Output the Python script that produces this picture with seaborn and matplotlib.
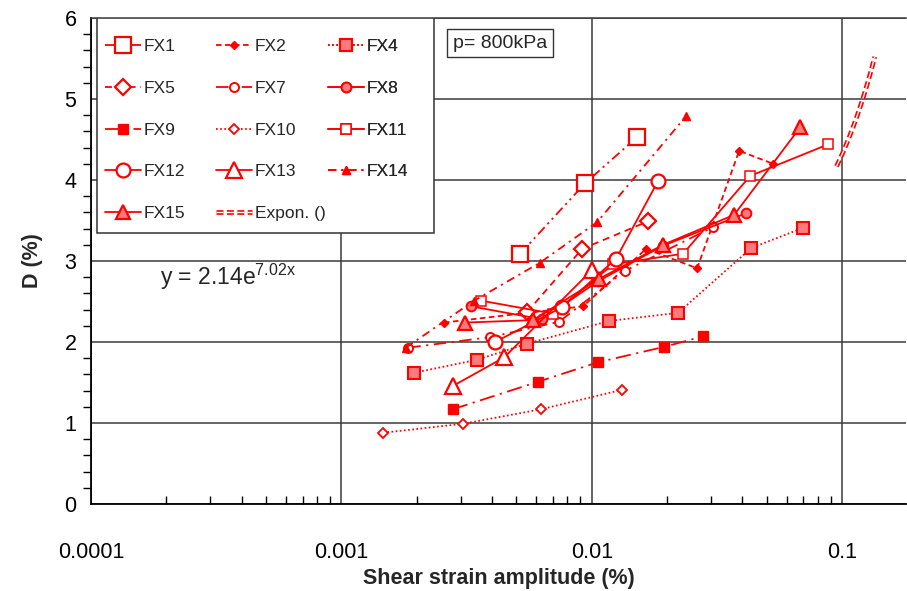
import numpy as np
import matplotlib
matplotlib.use("Agg")
import matplotlib.pyplot as plt
import seaborn as sns
from matplotlib.patches import Rectangle
from matplotlib.legend_handler import HandlerTuple
from matplotlib.ticker import LogLocator, MultipleLocator, FixedLocator, NullFormatter

# ---------------- data ----------------
fx1_x = [0.00518, 0.00941, 0.01518]
fx1_y = [3.09, 3.96, 4.53]

fx2_x = [0.00257, 0.00924, 0.01649, 0.02637, 0.0388, 0.05305]
fx2_y = [2.24, 2.44, 3.15, 2.91, 4.36, 4.20]

fx4_x = [0.00195, 0.00348, 0.00552, 0.01173, 0.02213, 0.04336, 0.06993]
fx4_y = [1.62, 1.78, 1.98, 2.26, 2.36, 3.16, 3.41]

fx5_x = [0.00552, 0.00916, 0.0168]
fx5_y = [2.37, 3.15, 3.49]

fx7_x = [0.00185, 0.00393, 0.00741, 0.01359, 0.03055]
fx7_y = [1.93, 2.06, 2.25, 2.88, 3.42]

fx8_x = [0.0033, 0.00634, 0.0106, 0.01928, 0.04139]
fx8_y = [2.44, 2.28, 2.75, 3.19, 3.59]

fx9_x = [0.00279, 0.00611, 0.0106, 0.01946, 0.02786]
fx9_y = [1.17, 1.51, 1.75, 1.94, 2.07]

fx10_x = [0.00147, 0.00306, 0.00628, 0.01322]
fx10_y = [0.88, 0.99, 1.17, 1.41]

fx11_x = [0.00362, 0.00701, 0.01218, 0.02318, 0.04295, 0.08797]
fx11_y = [2.51, 2.35, 2.96, 3.09, 4.05, 4.44]

fx12_x = [0.00411, 0.00762, 0.01252, 0.01842]
fx12_y = [2.00, 2.43, 3.03, 3.99]

fx13_x = [0.0028, 0.00447, 0.01004]
fx13_y = [1.46, 1.81, 2.89]

fx14_x = [0.00181, 0.00339, 0.00622, 0.01051, 0.02384]
fx14_y = [1.93, 2.51, 2.98, 3.48, 4.79]

fx15_x = [0.00312, 0.00583, 0.0107, 0.01928, 0.03706, 0.06802]
fx15_y = [2.24, 2.27, 2.78, 3.20, 3.57, 4.65]

# exponential trendline shown on the chart: y = 2.14 e^(7.02 x)
trend_a = 2.14
trend_b = 7.02
trend_x_range = [0.095, 0.135]

series_names = ["FX1", "FX2", "FX4", "FX5", "FX7", "FX8", "FX9", "FX10",
                "FX11", "FX12", "FX13", "FX14", "FX15"]
x_tick_values = [1e-4, 1e-3, 1e-2, 1e-1]
x_tick_labels = ["0.0001", "0.001", "0.01", "0.1"]

# ---------------- styling ----------------
sns.set_theme(style="white")
plt.rcParams["font.family"] = ["Liberation Sans", "DejaVu Sans"]
plt.rcParams["mathtext.fontset"] = "custom"
plt.rcParams["mathtext.rm"] = "Liberation Sans"
plt.rcParams["mathtext.it"] = "Liberation Sans:italic"
plt.rcParams["lines.scale_dashes"] = False

RED = "#ff0000"
LIGHT = "#ff7a7a"

styles = {
    "FX1":  dict(marker="s", ms=11, mfc="white", mew=1.6, ls=(0, (7, 3, 1.5, 3, 1.5, 3))),
    "FX2":  dict(marker="D", ms=4.5, mfc=RED, mew=1.0, ls=(0, (4, 2.5))),
    "FX4":  dict(marker="s", ms=8, mfc=LIGHT, mew=1.5, ls=(0, (1.2, 1.8))),
    "FX5":  dict(marker="D", ms=8.5, mfc="white", mew=1.6, ls=(0, (5, 3.5))),
    "FX7":  dict(marker="o", ms=6.5, mfc="white", mew=1.4, ls=(0, (9, 4, 1.5, 4))),
    "FX8":  dict(marker="o", ms=7, mfc=LIGHT, mew=1.4, ls="-"),
    "FX9":  dict(marker="s", ms=6.5, mfc=RED, mew=1.0, ls=(0, (11, 4, 1.5, 4))),
    "FX10": dict(marker="D", ms=5, mfc="white", mew=1.3, ls=(0, (1.2, 1.8))),
    "FX11": dict(marker="s", ms=7, mfc="white", mew=1.1, ls="-"),
    "FX12": dict(marker="o", ms=10, mfc="white", mew=1.6, ls="-"),
    "FX13": dict(marker="^", ms=11, mfc="white", mew=1.6, ls="-"),
    "FX14": dict(marker="^", ms=6, mfc=RED, mew=1.0, ls=(0, (6, 3.5, 1.5, 3.5))),
    "FX15": dict(marker="^", ms=9.5, mfc=LIGHT, mew=1.6, ls="-"),
}

data = {
    "FX1": (fx1_x, fx1_y), "FX2": (fx2_x, fx2_y), "FX4": (fx4_x, fx4_y),
    "FX5": (fx5_x, fx5_y), "FX7": (fx7_x, fx7_y), "FX8": (fx8_x, fx8_y),
    "FX9": (fx9_x, fx9_y), "FX10": (fx10_x, fx10_y), "FX11": (fx11_x, fx11_y),
    "FX12": (fx12_x, fx12_y), "FX13": (fx13_x, fx13_y), "FX14": (fx14_x, fx14_y),
    "FX15": (fx15_x, fx15_y),
}

W, H = 907, 591
fig = plt.figure(figsize=(W / 100, H / 100), dpi=100)
AX_L, AX_R, AX_T, AX_B = 91, 906, 18, 504
ax = fig.add_axes([AX_L / W, (H - AX_B) / H, (AX_R - AX_L) / W, (AX_B - AX_T) / H])

handles = {}
for name in series_names:
    xs, ys = data[name]
    st = styles[name]
    sns.lineplot(x=xs, y=ys, ax=ax, sort=False, color=RED, linewidth=1.3,
                 linestyle=st["ls"], marker=st["marker"], markersize=st["ms"],
                 markerfacecolor=st["mfc"], markeredgecolor=RED,
                 markeredgewidth=st["mew"], legend=False, zorder=3)
    handles[name] = ax.lines[-1]

# trendline (double dashed line)
tx = np.linspace(trend_x_range[0], trend_x_range[1], 60)
ty = trend_a * np.exp(trend_b * tx)
t1, = ax.plot(tx, ty, color=RED, lw=3.4, ls=(0, (5, 2.5)), zorder=3)
t2, = ax.plot(tx, ty, color="white", lw=1.0, ls=(0, (5, 2.5)), zorder=3)
handles["Expon. ()"] = (t1, t2)

ax.set_xscale("log")
ax.set_xlim(1e-4, 0.18)
ax.set_ylim(0, 6)
ax.xaxis.set_major_locator(FixedLocator(x_tick_values))
ax.set_xticklabels(x_tick_labels)
ax.xaxis.set_minor_locator(LogLocator(base=10, subs=np.arange(2, 10)))
ax.xaxis.set_minor_formatter(NullFormatter())
ax.yaxis.set_major_locator(MultipleLocator(1))
ax.yaxis.set_minor_locator(MultipleLocator(0.2))

ax.grid(True, which="major", color="#3a3a3a", lw=1.1)
ax.set_axisbelow(True)
for s in ["left", "bottom"]:
    ax.spines[s].set_color("black")
    ax.spines[s].set_linewidth(1.3)
ax.spines["top"].set_color("#3a3a3a")
ax.spines["top"].set_linewidth(1.1)
ax.spines["right"].set_visible(False)

ax.tick_params(axis="x", which="major", direction="out", length=7, width=1.1,
               colors="black", labelsize=15.5, pad=20)
ax.tick_params(axis="x", which="minor", direction="in", length=6, width=1.0,
               colors="black", bottom=True)
ax.tick_params(axis="y", which="major", direction="inout", length=13, width=1.1,
               colors="black", labelsize=15.5, pad=4)
ax.tick_params(axis="y", which="minor", direction="out", length=6, width=1.0,
               colors="black", left=True)

ax.set_xlabel("Shear strain amplitude (%)", fontsize=15.5, fontweight="bold", labelpad=4)
ax.set_ylabel("D (%)", fontsize=15.5, fontweight="bold", labelpad=15)

# equation and pressure annotation
fig.text(160 / W, 1 - 277 / H, r"y = 2.14e$^{\mathrm{7.02x}}$", fontsize=16.5,
         va="center", ha="left")
fig.text(500 / W, 1 - 43 / H, "p= 800kPa", fontsize=14, ha="center", va="center",
         bbox=dict(boxstyle="square,pad=0.3", fc="white", ec="#333333", lw=1.0))

# legend: frame plus three columns
def px2ax(px, py):
    return ((px - AX_L) / (AX_R - AX_L), (AX_B - py) / (AX_B - AX_T))

x0, y0 = px2ax(97, 233)
x1, y1 = px2ax(434, 18)
ax.add_patch(Rectangle((x0, y0), x1 - x0, y1 - y0, transform=ax.transAxes,
                       fc="white", ec="#333333", lw=1.1, zorder=4))

columns = [["FX1", "FX5", "FX9", "FX12", "FX15"],
           ["FX2", "FX7", "FX10", "FX13", "Expon. ()"],
           ["FX4", "FX8", "FX11", "FX14"]]
col_px = [105, 216, 328]
for cx, col in zip(col_px, columns):
    ax_x, ax_y = px2ax(cx, 39)
    leg = ax.legend([handles[n] for n in col], col, loc="upper left",
                    bbox_to_anchor=(ax_x, ax_y), frameon=False, fontsize=12.5,
                    handlelength=2.05, handletextpad=0.2, labelspacing=1.53,
                    borderpad=0, borderaxespad=0,
                    handler_map={tuple: HandlerTuple(ndivide=1, pad=0)})
    leg.set_zorder(5)
    ax.add_artist(leg)

fig.savefig("out.png", dpi=100)
